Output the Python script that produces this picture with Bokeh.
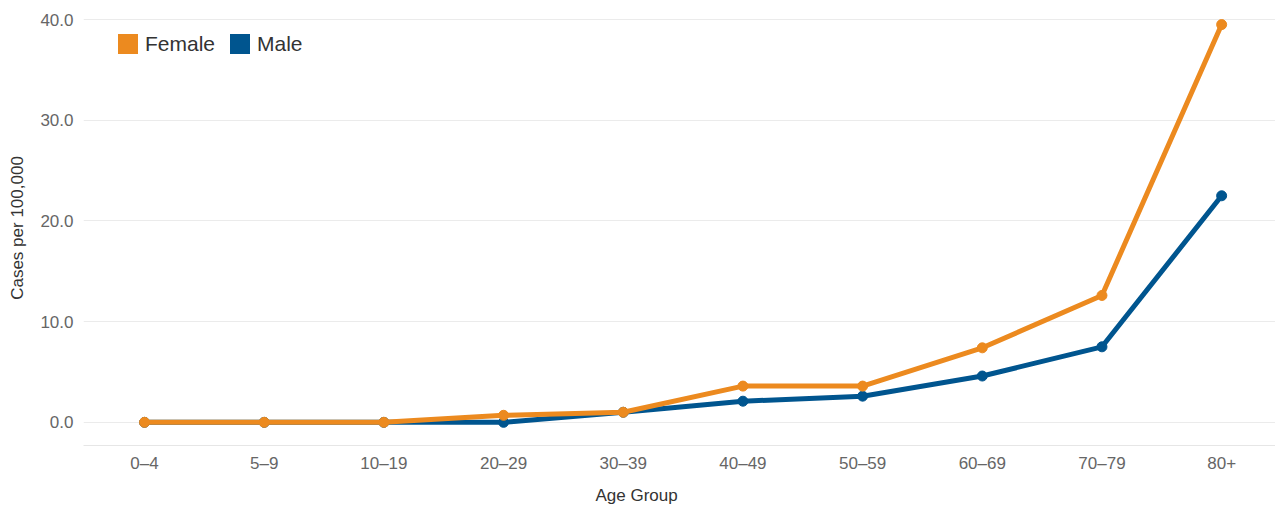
from bokeh.plotting import figure
from bokeh.models import Range1d, Legend, LegendItem, ColumnDataSource, FixedTicker, Title
from bokeh.embed import file_html
from bokeh.resources import INLINE

age_groups = ["0\u20134", "5\u20139", "10\u201319", "20\u201329", "30\u201339",
              "40\u201349", "50\u201359", "60\u201369", "70\u201379", "80+"]
female = [0.0, 0.0, 0.0, 0.7, 1.0, 3.6, 3.6, 7.4, 12.6, 39.5]
male = [0.0, 0.0, 0.0, 0.0, 1.0, 2.1, 2.6, 4.6, 7.5, 22.5]
y_ticks = [0, 10, 20, 30, 40]

ORANGE = "#EC8A1F"
BLUE = "#00558F"
FONT = "Liberation Sans"

idx = list(range(len(age_groups)))

p = figure(width=1275, height=514, output_backend="svg", toolbar_location=None,
           x_range=Range1d(-0.51, 9.45),
           y_range=Range1d(-2.3, 40.9),
           min_border_left=83, min_border_top=10, min_border_bottom=69, min_border_right=0)
p.outline_line_color = None
p.background_fill_color = "white"
p.border_fill_color = "white"

src = ColumnDataSource(dict(x=idx, f=female, m=male))

p.line("x", "m", source=src, line_color=BLUE, line_width=5)
p.scatter("x", "m", source=src, size=10, fill_color=BLUE, line_color=BLUE)
p.line("x", "f", source=src, line_color=ORANGE, line_width=5)
p.scatter("x", "f", source=src, size=10, fill_color=ORANGE, line_color=ORANGE)

# legend swatches
nan = float("nan")
qf = p.quad(left=[nan], right=[nan], top=[nan], bottom=[nan], fill_color=ORANGE, line_color=None)
qm = p.quad(left=[nan], right=[nan], top=[nan], bottom=[nan], fill_color=BLUE, line_color=None)
legend = Legend(items=[LegendItem(label="Female", renderers=[qf]),
                       LegendItem(label="Male", renderers=[qm])],
                orientation="horizontal", location=(32, 389),
                glyph_width=25, glyph_height=25, label_standoff=5, spacing=12,
                padding=0, margin=0, border_line_color=None, background_fill_alpha=0,
                label_text_font=FONT, label_text_font_size="21px", label_text_color="#333333")
p.add_layout(legend)

# axes
p.xgrid.grid_line_color = None
p.ygrid.grid_line_color = "#ebebeb"
p.ygrid.grid_line_width = 1
p.yaxis.ticker = FixedTicker(ticks=y_ticks)
p.yaxis.major_label_overrides = {t: f"{t:.1f}" for t in y_ticks}
p.yaxis.axis_line_color = None
p.yaxis.major_tick_line_color = None
p.yaxis.major_tick_out = 0
p.yaxis.major_tick_in = 0
p.yaxis.minor_tick_line_color = None
p.yaxis.major_label_standoff = 10
p.yaxis.major_label_text_font = FONT
p.yaxis.major_label_text_font_size = "17px"
p.yaxis.major_label_text_color = "#666666"
p.yaxis.axis_label = "Cases per 100,000"
p.yaxis.axis_label_text_font = FONT
p.yaxis.axis_label_text_font_size = "17px"
p.yaxis.axis_label_text_font_style = "normal"
p.yaxis.axis_label_text_color = "#333333"
p.yaxis.axis_label_standoff = 10

p.xaxis.ticker = FixedTicker(ticks=idx)
p.xaxis.major_label_overrides = {i: g for i, g in zip(idx, age_groups)}
p.xaxis.axis_line_color = "#e6e6e6"
p.xaxis.major_tick_line_color = None
p.xaxis.major_tick_out = 0
p.xaxis.major_tick_in = 0
p.xaxis.minor_tick_line_color = None
p.xaxis.major_label_standoff = 8
p.xaxis.major_label_text_font = FONT
p.xaxis.major_label_text_font_size = "17px"
p.xaxis.major_label_text_color = "#666666"

p.add_layout(Title(text="Age Group", align="left", offset=512, standoff=16,
                   text_font=FONT, text_font_size="17px", text_font_style="normal",
                   text_color="#333333"), "below")

open("out.html", "w").write(file_html(p, INLINE))
